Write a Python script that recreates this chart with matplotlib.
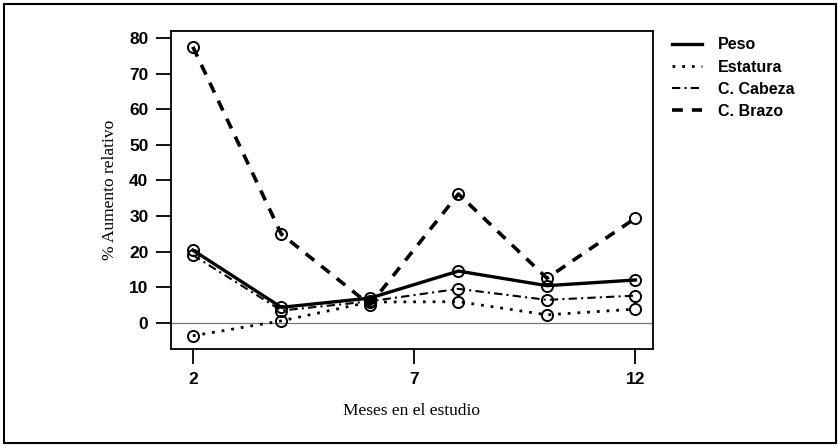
import matplotlib.pyplot as plt
from matplotlib.patches import Rectangle

meses = [2, 4, 6, 8, 10, 12]
peso = [20.4, 4.3, 6.9, 14.5, 10.4, 12.0]
estatura = [-3.7, 0.5, 5.8, 5.9, 2.2, 3.8]
cabeza = [19.0, 3.4, 6.0, 9.5, 6.4, 7.6]
brazo = [77.6, 24.9, 5.0, 36.2, 12.5, 29.4]
series_labels = ['Peso', 'Estatura', 'C. Cabeza', 'C. Brazo']

fig = plt.figure(figsize=(8.38, 4.47), dpi=100)
ax = fig.add_axes([0.2037, 0.2186, 0.5752, 0.712])

mk = dict(marker='o', markersize=8, markerfacecolor='none', markeredgecolor='black',
          markeredgewidth=1.4, color='black')
ax.plot(meses, peso, linestyle='-', linewidth=2.4, label=series_labels[0], **mk)
ax.plot(meses, estatura, linestyle=(0, (1, 2.5)), linewidth=2.0, label=series_labels[1], **mk)
ax.plot(meses, cabeza, linestyle=(0, (4, 2, 1, 2)), linewidth=1.5, label=series_labels[2], **mk)
ax.plot(meses, brazo, linestyle=(0, (3, 2.5)), linewidth=2.6, label=series_labels[3], **mk)
ax.axhline(0, color='#777777', linewidth=0.9, zorder=0)

ax.set_xlim(1.5, 12.39)
ax.set_ylim(-7.5, 82.05)
ax.set_xticks([2, 7, 12])
ax.set_yticks(range(0, 81, 10))
ax.tick_params(direction='out', length=11, width=1.3, labelsize=12.5, pad=5)
for lab in ax.get_xticklabels() + ax.get_yticklabels():
    lab.set_fontfamily('Liberation Sans')
    lab.set_fontweight('bold')
for s in ax.spines.values():
    s.set_linewidth(1.3)

ax.set_xlabel('Meses en el estudio', fontfamily='Liberation Serif', fontsize=12.5, labelpad=12)
ax.set_ylabel('% Aumento relativo', fontfamily='Liberation Serif', fontsize=12.5, labelpad=8)

ax.legend(loc='upper left', bbox_to_anchor=(1.01, 1.025), frameon=False, handlelength=1.9,
          handletextpad=1.0, labelspacing=0.45,
          prop={'family': 'Liberation Sans', 'weight': 'bold', 'size': 11.5})
leg = ax.get_legend()
for h in leg.legend_handles:
    h.set_marker('')

fig.patches.append(Rectangle((0.005, 0.01), 0.993, 0.982, transform=fig.transFigure,
                             fill=False, edgecolor='black', linewidth=1.5))

fig.savefig('out.png', dpi=100)
